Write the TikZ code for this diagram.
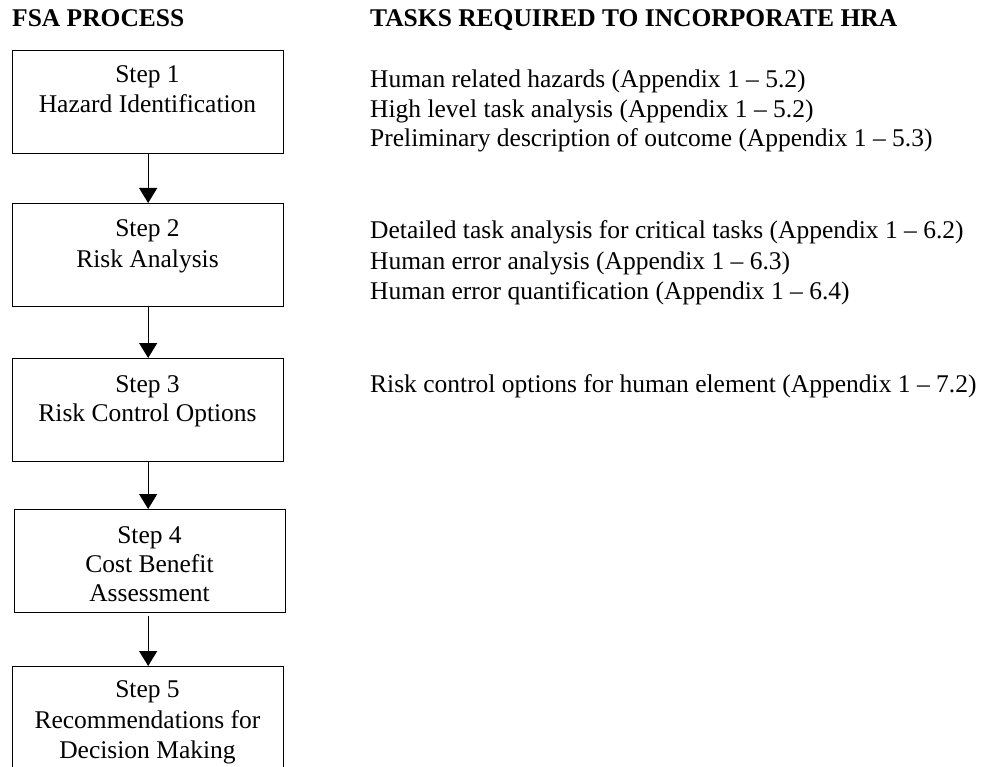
\documentclass[tikz,border=0pt]{standalone}
\usepackage{fontspec}
\setmainfont{Liberation Serif}
\usetikzlibrary{arrows.meta}
\begin{document}
\begin{tikzpicture}[x=1pt,y=-1pt,
  stepbox/.style={draw, line width=1.3pt, minimum width=271pt, minimum height=103pt,
                  inner sep=0pt, anchor=north west},
  boxline/.style={font=\fontsize{25.5}{30}\selectfont, inner sep=0pt, anchor=base},
  heading/.style={font=\fontsize{25.5}{30}\selectfont\bfseries, inner sep=0pt, anchor=base west},
  task/.style={font=\fontsize{25.5}{30}\selectfont, inner sep=0pt, anchor=base west},
  flow/.style={line width=1.3pt, -{Triangle[width=18pt,length=15pt]}}]
\useasboundingbox (0,0) rectangle (985,767);

% column headings
\node[heading] (hfsa) at (12,27) {FSA PROCESS};
\node[heading] (hhra) at (370,27) {TASKS REQUIRED TO INCORPORATE HRA};

% FSA steps
\node[stepbox] (s1) at (12,50) {};
\node[boxline] (s1a) at (147.5,83) {Step 1};
\node[boxline] (s1b) at (147.5,113) {Hazard Identification};

\node[stepbox] (s2) at (12,203) {};
\node[boxline] (s2a) at (147.5,237) {Step 2};
\node[boxline] (s2b) at (147.5,268) {Risk Analysis};

\node[stepbox] (s3) at (12,358) {};
\node[boxline] (s3a) at (147.5,392) {Step 3};
\node[boxline] (s3b) at (147.5,421) {Risk Control Options};

\node[stepbox] (s4) at (14,509) {};
\node[boxline] (s4a) at (149.5,543) {Step 4};
\node[boxline] (s4b) at (149.5,572) {Cost Benefit};
\node[boxline] (s4c) at (149.5,601) {Assessment};

\node[stepbox, minimum height=112pt] (s5) at (12,666) {};
\node[boxline] (s5a) at (147.5,697) {Step 5};
\node[boxline] (s5b) at (147.5,728) {Recommendations for};
\node[boxline] (s5c) at (147.5,758) {Decision Making};

% connectors
\draw[flow] (s1.south) -- (s2.north);
\draw[flow] (s2.south) -- (s3.north);
\draw[flow] (s3.south) -- (s3.south |- s4.north);
\draw[flow, shorten <=3pt] (s4.south -| s3.south) -- (s5.north);

% HRA tasks
\node[task] (t1) at (370,88) {Human related hazards (Appendix 1 – 5.2)};
\node[task] (t2) at (370,118) {High level task analysis (Appendix 1 – 5.2)};
\node[task] (t3) at (370,147) {Preliminary description of outcome (Appendix 1 – 5.3)};

\node[task] (t4) at (370,239) {Detailed task analysis for critical tasks (Appendix 1 – 6.2)};
\node[task] (t5) at (370,270) {Human error analysis (Appendix 1 – 6.3)};
\node[task] (t6) at (370,300) {Human error quantification (Appendix 1 – 6.4)};

\node[task] (t7) at (370,392) {Risk control options for human element (Appendix 1 – 7.2)};
\end{tikzpicture}
\end{document}
